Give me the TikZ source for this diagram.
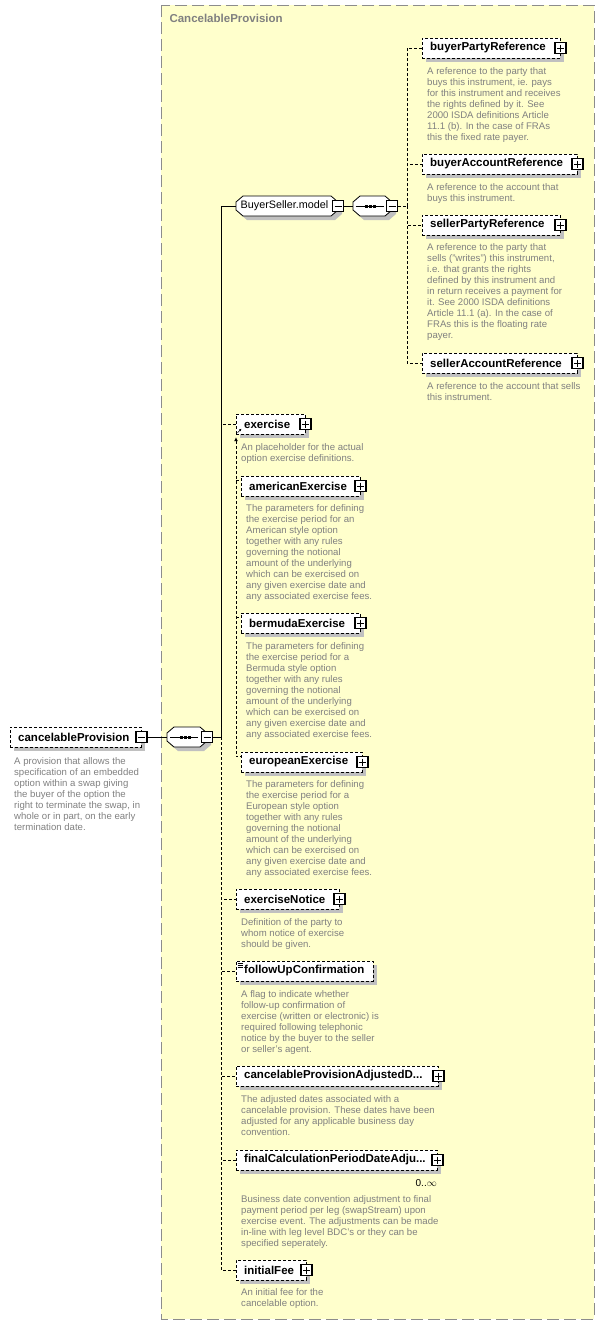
\documentclass[tikz,border=0pt]{standalone}
\usepackage{fontspec}
\setmainfont{Liberation Sans}
\usepackage{tikz}
\usetikzlibrary{shadows,arrows.meta}
\usepackage{xcolor}
\definecolor{panelyellow}{RGB}{255,255,204}
\definecolor{descgray}{RGB}{128,128,128}
\definecolor{shadowgray}{RGB}{192,192,192}
\definecolor{framegray}{RGB}{140,140,140}

\newcommand{\descfont}{\fontsize{9.6}{11}\selectfont}
\newcommand{\elemfont}{\fontsize{11.5}{13}\selectfont\bfseries}
\newcommand{\grpfont}{\fontsize{10.8}{13}\selectfont}

\tikzset{
  elem/.style={draw, dash pattern=on 3pt off 2pt, fill=white, font=\elemfont, anchor=west,
    minimum height=20pt, inner xsep=8pt, inner ysep=0pt, align=left,
    drop shadow={shadow xshift=4pt, shadow yshift=-4pt, fill=shadowgray, opacity=1}},
  grp/.style={minimum height=20pt, inner sep=0pt, font=\grpfont},
  pmbox/.style={draw, fill=white, line width=1.2pt, minimum size=11pt, inner sep=0pt},
  plusbox/.style={pmbox, path picture={
    \draw[line width=0.8pt] ([xshift=2pt]path picture bounding box.west) -- ([xshift=-2pt]path picture bounding box.east)
      ([yshift=-2pt]path picture bounding box.north) -- ([yshift=2pt]path picture bounding box.south);}},
  minusbox/.style={pmbox, path picture={
    \draw[line width=0.8pt] ([xshift=2pt]path picture bounding box.west) -- ([xshift=-2pt]path picture bounding box.east);}},
  desc/.style={anchor=north west, inner sep=0pt, align=left, font=\descfont, text=descgray},
  link/.style={line width=0.8pt},
  optlink/.style={line width=0.8pt, dash pattern=on 3pt off 2pt},
}

% octagon outline with shadow: left x, centre y, width
\newcommand{\octagon}[3]{%
  \fill[shadowgray] (#1+4+7,#2-6) -- (#1+4+#3-7,#2-6) -- (#1+4+#3,#2) -- (#1+4+#3,#2+8)
    -- (#1+4+#3-7,#2+14) -- (#1+4+7,#2+14) -- (#1+4,#2+8) -- (#1+4,#2) -- cycle;
  \draw[fill=white, line width=0.8pt] (#1+7,#2-10) -- (#1+#3-7,#2-10) -- (#1+#3,#2-4) -- (#1+#3,#2+4)
    -- (#1+#3-7,#2+10) -- (#1+7,#2+10) -- (#1,#2+4) -- (#1,#2-4) -- cycle;}

% sequence compositor symbol
\newcommand{\seqsym}[1]{%
  \draw[link] ([xshift=-17pt]#1.center) -- ([xshift=11pt]#1.center);
  \foreach \d in {-6,-2,2} \fill ([xshift=\d pt]#1.center) ++(-1.5pt,-1.5pt) rectangle ++(3pt,3pt);}

\begin{document}
\begin{tikzpicture}[x=1pt, y=-1pt]
    \useasboundingbox (0,0) rectangle (605,1326);

    % Complex type panel
    \draw[framegray, fill=panelyellow, dash pattern=on 12pt off 5pt] (161,5) rectangle (594,1319);
    \node[anchor=west, font=\elemfont, text=descgray] (title) at (166,18) {CancelableProvision};

    % Root element
    \node[elem, text width=115pt] (root) at (10,737) {cancelableProvision};
    \node[minusbox] (rootpm) at (root.east) {};
    \node[desc] (rootdesc) at (14,757) {A provision that allows the\\specification of an embedded\\option within a swap giving\\the buyer of the option the\\right to terminate the swap, in\\whole or in part, on the early\\termination date.};

    % Outer sequence
    \octagon{167}{737}{40}
    \node[grp, minimum width=40pt] (seq1) at (187,737) {};
    \node[minusbox] (seq1pm) at (seq1.east) {};
    \seqsym{seq1}
    \coordinate (trunk) at (221,737);

    % BuyerSeller.model group
    \octagon{236}{206}{102}
    \node[grp, minimum width=102pt] (bsm) at (287,206) {\hspace*{-5pt}BuyerSeller.model};
    \node[minusbox] (bsmpm) at (bsm.east) {};
    \octagon{353}{206}{39}
    \node[grp, minimum width=39pt] (seq2) at (372.5,206) {};
    \node[minusbox] (seq2pm) at (seq2.east) {};
    \seqsym{seq2}
    \coordinate (itrunk) at (407,206);

    \node[elem, text width=122pt] (bpr) at (422,48) {buyerPartyReference};
    \node[plusbox] (bprpm) at (bpr.east) {};
    \node[desc] (bprdesc) at (427,67) {A reference to the party that\\buys this instrument, ie. pays\\for this instrument and receives\\the rights defined by it. See\\2000 ISDA definitions Article\\11.1 (b). In the case of FRAs\\this the fixed rate payer.};

    \node[elem, text width=139pt] (bar) at (422,164) {buyerAccountReference};
    \node[plusbox] (barpm) at (bar.east) {};
    \node[desc] (bardesc) at (427,183) {A reference to the account that\\buys this instrument.};

    \node[elem, text width=122pt] (spr) at (422,225) {sellerPartyReference};
    \node[plusbox] (sprpm) at (spr.east) {};
    \node[desc] (sprdesc) at (427,243) {A reference to the party that\\sells ("writes") this instrument,\\i.e. that grants the rights\\defined by this instrument and\\in return receives a payment for\\it. See 2000 ISDA definitions\\Article 11.1 (a). In the case of\\FRAs this is the floating rate\\payer.};

    \node[elem, text width=139pt] (sar) at (422,363) {sellerAccountReference};
    \node[plusbox] (sarpm) at (sar.east) {};
    \node[desc] (sardesc) at (427,382) {A reference to the account that sells\\this instrument.};

    % Exercise and its substitutes
    \node[elem, text width=53pt] (ex) at (236,424) {exercise};
    \node[plusbox] (expm) at (ex.east) {};
    \node[desc] (exdesc) at (241,443) {An placeholder for the actual\\option exercise definitions.};
    \draw[-{Latex[length=2.5pt,width=2.5pt]}, line width=0.6pt] ([shift={(1.5pt,1.5pt)}]ex.south west) -- ++(4pt,4pt);

    \node[elem, text width=103pt] (am) at (241,486) {americanExercise};
    \node[plusbox] (ampm) at (am.east) {};
    \node[desc] (amdesc) at (246,504) {The parameters for defining\\the exercise period for an\\American style option\\together with any rules\\governing the notional\\amount of the underlying\\which can be exercised on\\any given exercise date and\\any associated exercise fees.};

    \node[elem, text width=103pt] (be) at (241,623) {bermudaExercise};
    \node[plusbox] (bepm) at (be.east) {};
    \node[desc] (bedesc) at (246,642) {The parameters for defining\\the exercise period for a\\Bermuda style option\\together with any rules\\governing the notional\\amount of the underlying\\which can be exercised on\\any given exercise date and\\any associated exercise fees.};

    \node[elem, text width=105pt] (eu) at (241,762) {europeanExercise};
    \node[plusbox] (eupm) at (eu.east) {};
    \node[desc] (eudesc) at (246,780) {The parameters for defining\\the exercise period for a\\European style option\\together with any rules\\governing the notional\\amount of the underlying\\which can be exercised on\\any given exercise date and\\any associated exercise fees.};

    % Remaining optional elements
    \node[elem, text width=87pt] (en) at (236,899) {exerciseNotice};
    \node[plusbox] (enpm) at (en.east) {};
    \node[desc] (endesc) at (241,918) {Definition of the party to\\whom notice of exercise\\should be given.};

    \node[elem, text width=121pt] (fu) at (236,971) {followUpConfirmation};
    \foreach \d in {2,4,6} \draw[line width=0.5pt] ([shift={(1.5pt,-\d pt)}]fu.north west) -- ++(5pt,0pt);
    \node[desc] (fudesc) at (241,990) {A flag to indicate whether\\follow-up confirmation of\\exercise (written or electronic) is\\required following telephonic\\notice by the buyer to the seller\\or seller's agent.};

    \node[elem, text width=186pt] (cpad) at (236,1076) {cancelableProvisionAdjustedD...};
    \node[plusbox] (cpadpm) at (cpad.east) {};
    \node[desc] (cpaddesc) at (241,1095) {The adjusted dates associated with a\\cancelable provision. These dates have been\\adjusted for any applicable business day\\convention.};

    \node[elem, text width=185pt] (fcp) at (236,1160) {finalCalculationPeriodDateAdju...};
    \node[plusbox] (fcppm) at (fcp.east) {};
    \node[anchor=east, inner sep=0pt, font=\fontsize{10}{12}\selectfont] (fcpocc) at (437,1183) {0..$\infty$};
    \node[desc] (fcpdesc) at (241,1195) {Business date convention adjustment to final\\payment period per leg (swapStream) upon\\exercise event. The adjustments can be made\\in-line with leg level BDC's or they can be\\specified seperately.};

    \node[elem, text width=54pt] (inf) at (236,1270) {initialFee};
    \node[plusbox] (infpm) at (inf.east) {};
    \node[desc] (infdesc) at (241,1288) {An initial fee for the\\cancelable option.};

    % Connectors
    \draw[link] (rootpm.east) -- (seq1.west);
    \draw[link] (seq1pm.east) -- (trunk);
    \draw[optlink] (trunk) |- (ex.west);
    \draw[optlink] (trunk) |- (en.west);
    \draw[optlink] (trunk) |- (fu.west);
    \draw[optlink] (trunk) |- (cpad.west);
    \draw[optlink] (trunk) |- (fcp.west);
    \draw[optlink] (trunk) |- (inf.west);
    \draw[link] (trunk) |- (bsm.west);
    \draw[link] (bsmpm.east) -- (seq2.west);
    \draw[optlink] (seq2pm.east) -- (itrunk);
    \draw[optlink] (itrunk) |- (bpr.west);
    \draw[optlink] (itrunk) |- (bar.west);
    \draw[optlink] (itrunk) |- (spr.west);
    \draw[optlink] (itrunk) |- (sar.west);

    % Substitution group
    \coordinate (subgrp) at ([yshift=-3pt]ex.south west);
    \draw[optlink, {Latex[length=4pt,width=4pt]}-] (subgrp) |- ([yshift=-5pt]eu.north west);
    \draw[optlink] ([yshift=-5pt]subgrp |- am.north) -- ([yshift=-5pt]am.north west);
    \draw[optlink] ([yshift=-5pt]subgrp |- be.north) -- ([yshift=-5pt]be.north west);
\end{tikzpicture}
\end{document}
